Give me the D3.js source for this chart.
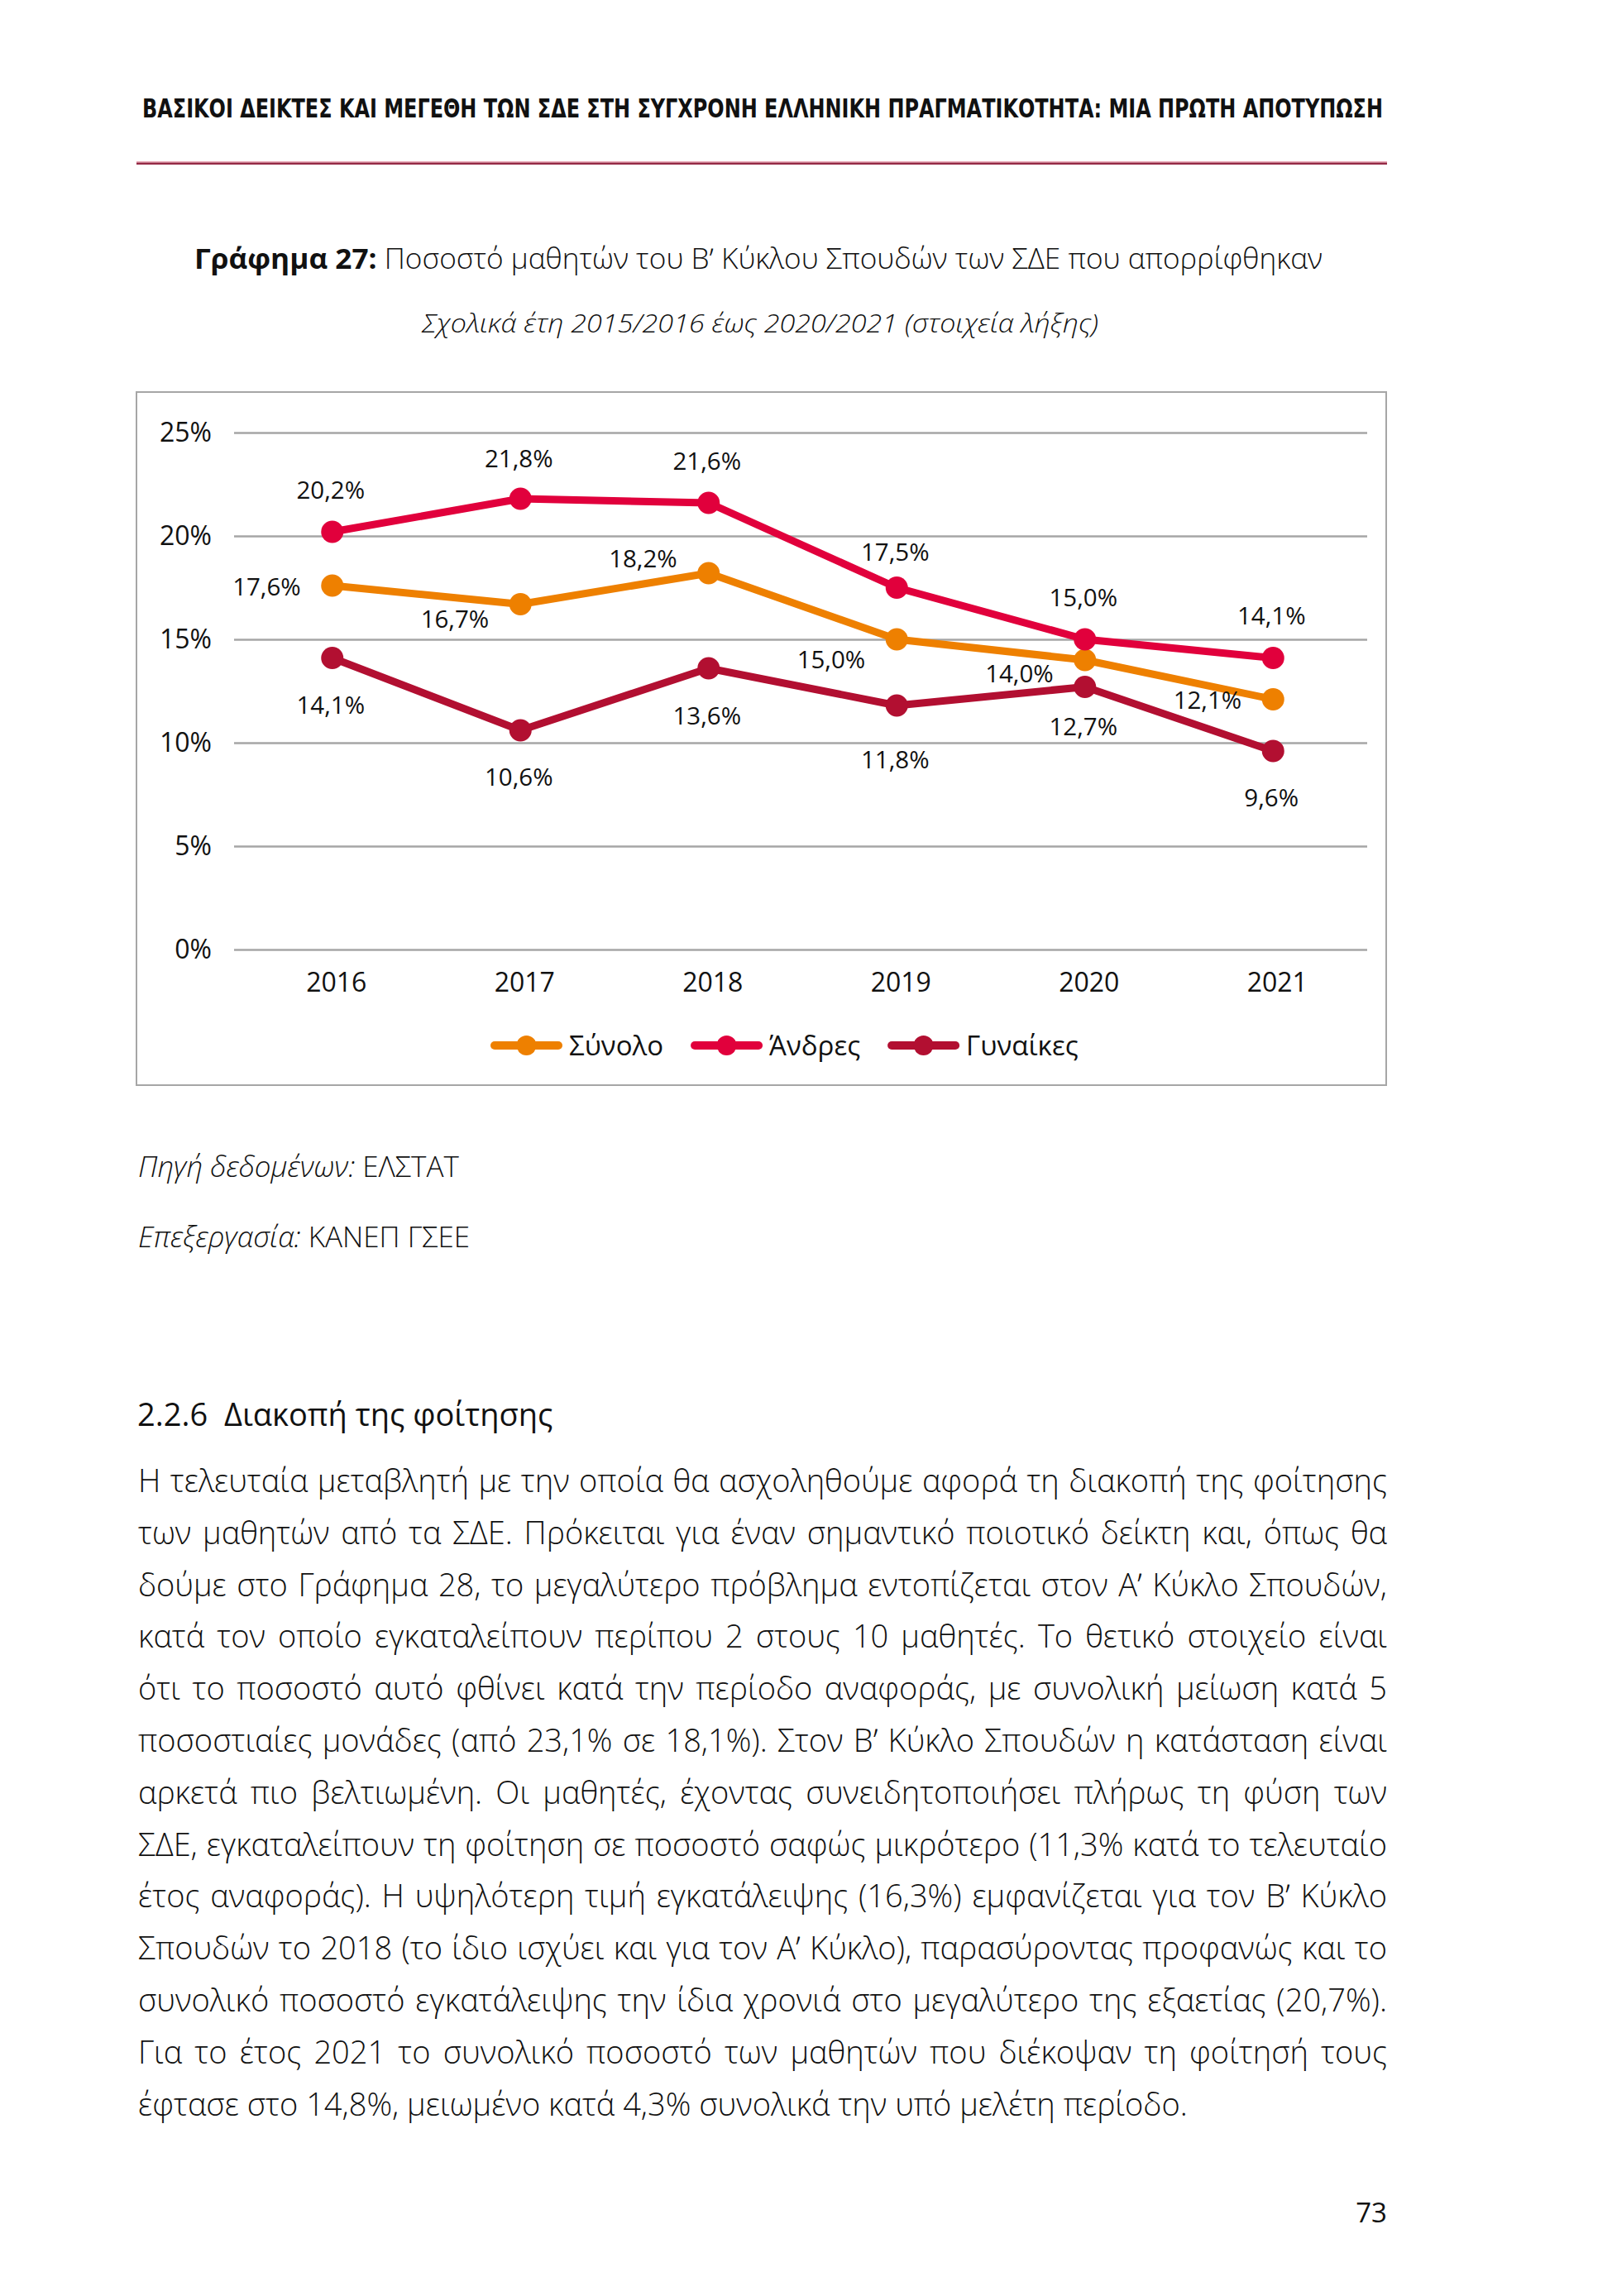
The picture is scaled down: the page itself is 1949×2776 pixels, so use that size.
<!DOCTYPE html>
<html>
<head>
<meta charset="utf-8">
<script src="https://cdn.jsdelivr.net/npm/d3@7"></script>
<style>
  body { margin: 0; background: #fff; }
  svg text { font-family: 'Open Sans', 'Noto Sans', sans-serif; fill: #111; }
</style>
</head>
<body>
<div class="container"></div>
<script>
// chart data
const years = ['2016', '2017', '2018', '2019', '2020', '2021'];
const synolo = [17.6, 16.7, 18.2, 15.0, 14.0, 12.1];
const andres = [20.2, 21.8, 21.6, 17.5, 15.0, 14.1];
const gynaikes = [14.1, 10.6, 13.6, 11.8, 12.7, 9.6];
const yTicks = [0, 5, 10, 15, 20, 25];
const seriesNames = ['Σύνολο', 'Άνδρες', 'Γυναίκες'];

// page texts
const headerText = 'ΒΑΣΙΚΟΙ ΔΕΙΚΤΕΣ ΚΑΙ ΜΕΓΕΘΗ ΤΩΝ ΣΔΕ ΣΤΗ ΣΥΓΧΡΟΝΗ ΕΛΛΗΝΙΚΗ ΠΡΑΓΜΑΤΙΚΟΤΗΤΑ: ΜΙΑ ΠΡΩΤΗ ΑΠΟΤΥΠΩΣΗ';
const titleBold = 'Γράφημα 27:';
const titleRest = ' Ποσοστό μαθητών του Βʹ Κύκλου Σπουδών των ΣΔΕ που απορρίφθηκαν';
const subtitle = 'Σχολικά έτη 2015/2016 έως 2020/2021 (στοιχεία λήξης)';
const sectionTitle = '2.2.6  Διακοπή της φοίτησης';
const bodyLines = [
  'Η τελευταία μεταβλητή με την οποία θα ασχοληθούμε αφορά τη διακοπή της φοίτησης',
  'των μαθητών από τα ΣΔΕ. Πρόκειται για έναν σημαντικό ποιοτικό δείκτη και, όπως θα',
  'δούμε στο Γράφημα 28, το μεγαλύτερο πρόβλημα εντοπίζεται στον Αʹ Κύκλο Σπουδών,',
  'κατά τον οποίο εγκαταλείπουν περίπου 2 στους 10 μαθητές. Το θετικό στοιχείο είναι',
  'ότι το ποσοστό αυτό φθίνει κατά την περίοδο αναφοράς, με συνολική μείωση κατά 5',
  'ποσοστιαίες μονάδες (από 23,1% σε 18,1%). Στον Βʹ Κύκλο Σπουδών η κατάσταση είναι',
  'αρκετά πιο βελτιωμένη. Οι μαθητές, έχοντας συνειδητοποιήσει πλήρως τη φύση των',
  'ΣΔΕ, εγκαταλείπουν τη φοίτηση σε ποσοστό σαφώς μικρότερο (11,3% κατά το τελευταίο',
  'έτος αναφοράς). Η υψηλότερη τιμή εγκατάλειψης (16,3%) εμφανίζεται για τον Βʹ Κύκλο',
  'Σπουδών το 2018 (το ίδιο ισχύει και για τον Αʹ Κύκλο), παρασύροντας προφανώς και το',
  'συνολικό ποσοστό εγκατάλειψης την ίδια χρονιά στο μεγαλύτερο της εξαετίας (20,7%).',
  'Για το έτος 2021 το συνολικό ποσοστό των μαθητών που διέκοψαν τη φοίτησή τους',
  'έφτασε στο 14,8%, μειωμένο κατά 4,3% συνολικά την υπό μελέτη περίοδο.'
];

const w = 1949, h = 2776;
const colors = ['#ee8000', '#e1003c', '#b20f31'];

const svg = d3.select('.container')
              .append('svg')
              .attr('width', w)
              .attr('height', h)
              .style('display', 'block')
              .style('background', '#fff');

// running header
svg.append('text')
   .attr('x', 172)
   .attr('y', 142)
   .attr('textLength', 1500)
   .attr('lengthAdjust', 'spacingAndGlyphs')
   .style('font-family', "'Liberation Sans Narrow', 'DejaVu Sans Condensed', sans-serif")
   .style('font-weight', 'bold')
   .style('font-size', '31px')
   .text(headerText);
svg.append('rect').attr('x', 165).attr('y', 195).attr('width', 1512).attr('height', 1.5).style('fill', '#e9a7b6');
svg.append('rect').attr('x', 165).attr('y', 196.5).attr('width', 1512).attr('height', 2.5).style('fill', '#952a45');

// chart title + subtitle
const title = svg.append('text')
                 .attr('x', 235)
                 .attr('y', 325)
                 .attr('textLength', 1364)
                 .attr('lengthAdjust', 'spacingAndGlyphs')
                 .style('font-size', '34px');
title.append('tspan').style('font-weight', 'bold').text(titleBold);
title.append('tspan').style('font-weight', 300).text(titleRest);

svg.append('text')
   .attr('x', 510)
   .attr('y', 402)
   .attr('textLength', 818)
   .attr('lengthAdjust', 'spacingAndGlyphs')
   .style('font-size', '32px')
   .style('font-style', 'italic')
   .style('font-weight', 300)
   .text(subtitle);

// chart frame
svg.append('rect')
   .attr('x', 165).attr('y', 474)
   .attr('width', 1511).attr('height', 838)
   .style('fill', 'none')
   .style('stroke', '#a6a6a6')
   .style('stroke-width', 2);

const gridLeft = 283, gridRight = 1653;
const x = d3.scaleBand().domain(years).range([288, gridRight]);
const y = d3.scaleLinear().domain([0, 25]).range([1148, 523]);
const cx = (yr) => x(yr) + x.bandwidth() / 2;

// y axis with gridlines
const yAxis = d3.axisLeft(y)
                .tickValues(yTicks)
                .tickSize(-(gridRight - gridLeft))
                .tickPadding(27)
                .tickFormat((d) => d + '%');
const yG = svg.append('g')
              .attr('transform', `translate(${gridLeft},0)`)
              .call(yAxis);
yG.select('.domain').remove();
yG.selectAll('line').style('stroke', '#a6a6a6').style('stroke-width', 2.5);
yG.selectAll('text').style('font-size', '32px').style('fill', '#111');

// x axis
const xAxis = d3.axisBottom(x).tickSize(0).tickPadding(28);
const xG = svg.append('g')
              .attr('transform', 'translate(5,1148)')
              .call(xAxis);
xG.select('.domain').remove();
xG.selectAll('text').style('font-size', '32px').style('fill', '#111');

// series
const allSeries = [synolo, andres, gynaikes];
const line = d3.line()
               .x((d, i) => cx(years[i]))
               .y((d) => y(d));

// label placement per series: Σύνολο left of the point, Άνδρες above, Γυναίκες below
const labelDx = [-38, -2, -2];
const labelAnchor = ['end', 'middle', 'middle'];
const labelDy = [
  [1, 18, -18, 24, 16, 1],
  [-51, -49, -51, -43, -51, -51],
  [57, 56, 57, 65, 48, 56]
];

// draw order: Σύνολο, Άνδρες, Γυναίκες
allSeries.forEach((vals, s) => {
  const g = svg.append('g');
  g.append('path')
   .datum(vals)
   .attr('d', line)
   .style('fill', 'none')
   .style('stroke', colors[s])
   .style('stroke-width', 9)
   .style('stroke-linejoin', 'round');
  g.selectAll('circle')
   .data(vals)
   .enter()
   .append('circle')
   .attr('cx', (d, i) => cx(years[i]))
   .attr('cy', (d) => y(d))
   .attr('r', 13.5)
   .style('fill', colors[s]);
});

allSeries.forEach((vals, s) => {
  svg.append('g')
     .selectAll('text')
     .data(vals)
     .enter()
     .append('text')
     .attr('x', (d, i) => cx(years[i]) + labelDx[s])
     .attr('y', (d, i) => y(d) + labelDy[s][i])
     .attr('dy', '0.36em')
     .attr('text-anchor', labelAnchor[s])
     .style('font-size', '29.5px')
     .text((d) => d.toFixed(1).replace('.', ',') + '%');
});

// legend
let lx = 598;
const ly = 1264;
seriesNames.forEach((name, s) => {
  const g = svg.append('g');
  g.append('line')
   .attr('x1', lx).attr('x2', lx + 77)
   .attr('y1', ly).attr('y2', ly)
   .style('stroke', colors[s])
   .style('stroke-width', 10)
   .style('stroke-linecap', 'round');
  g.append('circle')
   .attr('cx', lx + 38.5).attr('cy', ly)
   .attr('r', 12)
   .style('fill', colors[s]);
  const t = g.append('text')
             .attr('x', lx + 90)
             .attr('y', ly)
             .attr('dy', '0.36em')
             .style('font-size', '33px')
             .text(name);
  lx += 90 + t.node().getComputedTextLength() + 38;
});

// source notes
const src1 = svg.append('text').attr('x', 167).attr('y', 1423).style('font-size', '35px').style('font-weight', 300);
src1.append('tspan').style('font-style', 'italic').text('Πηγή δεδομένων:');
src1.append('tspan').text(' ΕΛΣΤΑΤ');
const src2 = svg.append('text').attr('x', 167).attr('y', 1508).style('font-size', '35px').style('font-weight', 300);
src2.append('tspan').style('font-style', 'italic').text('Επεξεργασία:');
src2.append('tspan').text(' ΚΑΝΕΠ ΓΣΕΕ');

// section heading
svg.append('text')
   .attr('x', 166)
   .attr('y', 1724)
   .style('font-size', '38px')
   .style('font-weight', 400)
   .style('white-space', 'pre')
   .text(sectionTitle);

// body text, justified
const bodyLeft = 167, bodyRight = 1677;
bodyLines.forEach((txt, i) => {
  const t = svg.append('text')
               .attr('x', bodyLeft)
               .attr('y', 1804 + i * 62.8)
               .style('font-size', '38px')
               .style('font-weight', 300)
               .text(txt);
  if (i < bodyLines.length - 1) {
    const natural = t.node().getComputedTextLength();
    const gaps = txt.split(' ').length - 1;
    const extra = (bodyRight - bodyLeft) - natural;
    if (extra >= 0) {
      t.attr('word-spacing', extra / gaps);
    } else {
      t.attr('textLength', bodyRight - bodyLeft).attr('lengthAdjust', 'spacingAndGlyphs');
    }
  }
});

// page number
svg.append('text')
   .attr('x', 1677)
   .attr('y', 2687)
   .attr('text-anchor', 'end')
   .style('font-size', '33px')
   .text('73');
</script>
</body>
</html>
